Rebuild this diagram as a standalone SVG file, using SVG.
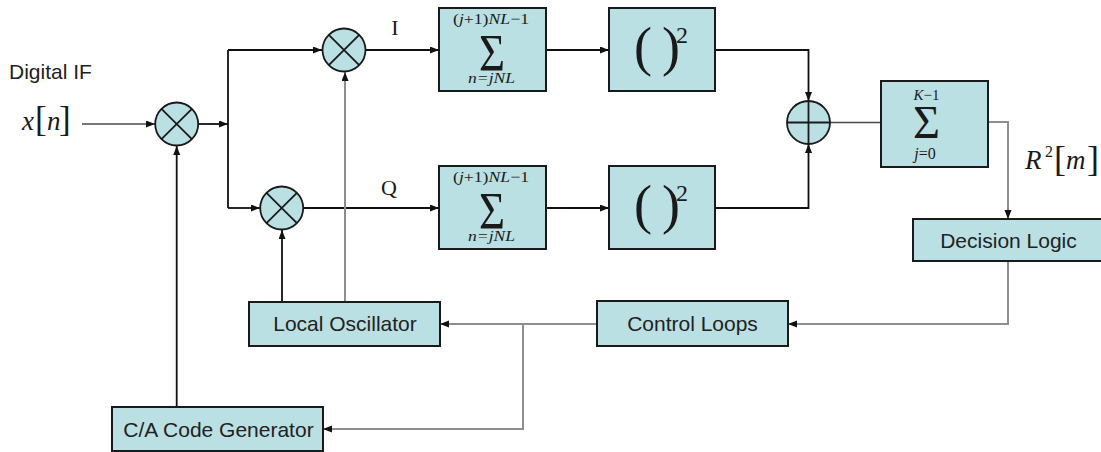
<svg xmlns="http://www.w3.org/2000/svg" width="1101" height="452" viewBox="0 0 1101 452">
<style>
.box{fill:#bae0e3;stroke:#1a1a1a;stroke-width:2}
.circ{fill:#bae0e3;stroke:#1a1a1a;stroke-width:1.8}
.cl{stroke:#1a1a1a;stroke-width:1.8;fill:none}
.w{fill:none;stroke:#111;stroke-width:1.8}
.g{fill:none;stroke:#8e8e8e;stroke-width:2}
.dg{fill:none;stroke:#4a4a4a;stroke-width:1.6}
.lbl{font-family:"Liberation Sans",Arial,sans-serif;font-size:21px;fill:#222;text-anchor:middle}
.m{font-family:"Liberation Serif","Times New Roman",serif;fill:#1a1a1a}
.it{font-style:italic}
</style>
<defs>
<marker id="ah" markerUnits="userSpaceOnUse" markerWidth="10" markerHeight="8" refX="9" refY="3.5" orient="auto">
<path d="M0,0 L9,3.5 L0,7 z" fill="#111"/>
</marker>
</defs>
<rect width="1101" height="452" fill="#fff"/>

<g id="connectors">
<path class="dg" d="M82,124 H155" marker-end="url(#ah)"/>
<path class="w" d="M198,124 H228" marker-end="url(#ah)"/>
<path class="w" d="M228,50 V208"/>
<path class="w" d="M228,50 H322" marker-end="url(#ah)"/>
<path class="w" d="M228,208 H260" marker-end="url(#ah)"/>
<path class="w" d="M366,50 H439" marker-end="url(#ah)"/>
<path class="w" d="M303,208 H439" marker-end="url(#ah)"/>
<path class="w" d="M546,50 H609" marker-end="url(#ah)"/>
<path class="w" d="M546,208 H609" marker-end="url(#ah)"/>
<path class="w" d="M715,50 H808.5 V101" marker-end="url(#ah)"/>
<path class="w" d="M715,208 H808.5 V144" marker-end="url(#ah)"/>
<path class="dg" d="M830,122.5 H881"/>
<path class="g" d="M988,122 H1008 V219" marker-end="url(#ah)"/>
<path class="g" d="M1008,261 V324 H788" marker-end="url(#ah)"/>
<path class="g" d="M597,324 H440" marker-end="url(#ah)"/>
<path class="g" d="M523,324 V429 H323" marker-end="url(#ah)"/>
<path class="w" d="M282,302 V230" marker-end="url(#ah)"/>
<path class="g" d="M345,302 V72" marker-end="url(#ah)"/>
<path class="w" d="M176.7,407 V146" marker-end="url(#ah)"/>
</g>

<g id="mult1">
<circle class="circ" cx="176.7" cy="124" r="21.5"/>
<path class="cl" d="M161.5,108.8 L191.9,139.2 M191.9,108.8 L161.5,139.2"/>
</g>
<g id="mult2">
<circle class="circ" cx="344" cy="50" r="21.5"/>
<path class="cl" d="M328.8,34.8 L359.2,65.2 M359.2,34.8 L328.8,65.2"/>
</g>
<g id="mult3">
<circle class="circ" cx="281.7" cy="208" r="21.5"/>
<path class="cl" d="M266.5,192.8 L296.9,223.2 M296.9,192.8 L266.5,223.2"/>
</g>
<g id="adder">
<circle class="circ" cx="808.5" cy="122.5" r="21.5"/>
<path class="cl" d="M787,122.5 H830 M808.5,101 V144"/>
</g>

<g id="labels">
<text class="lbl" x="9" y="79" style="text-anchor:start">Digital IF</text>
<text class="m" y="130"><tspan class="it" x="22" font-size="27">x</tspan><tspan x="35" y="131" font-size="35">[</tspan><tspan class="it" x="47" y="130" font-size="27">n</tspan><tspan x="59" y="131" font-size="35">]</tspan></text>
<text class="m" x="395" y="35" font-size="22" text-anchor="middle">I</text>
<text class="m" x="389" y="195" font-size="22" text-anchor="middle">Q</text>
<text class="m" y="169"><tspan class="it" x="1025" font-size="27">R</tspan><tspan x="1045" y="157" font-size="16">2</tspan><tspan x="1054" y="171" font-size="36">[</tspan><tspan class="it" x="1066" y="169" font-size="27">m</tspan><tspan x="1087" y="171" font-size="36">]</tspan></text>
</g>

<g id="sumI">
<rect class="box" x="439" y="8" width="107" height="83"/>
<text class="m" x="491" y="24" font-size="15" text-anchor="middle" textLength="76" lengthAdjust="spacingAndGlyphs">(<tspan class="it">j</tspan>+1)<tspan class="it">NL</tspan>−1</text>
<text class="m" x="492" y="71" font-size="52" text-anchor="middle" textLength="26" lengthAdjust="spacingAndGlyphs">Σ</text>
<text class="m it" x="491.5" y="83" font-size="15" text-anchor="middle" textLength="47" lengthAdjust="spacingAndGlyphs">n=jNL</text>
</g>
<g id="squareI">
<rect class="box" x="609" y="8" width="106" height="83"/>
<text class="m" x="634" y="65" font-size="54">(</text>
<text class="m" x="662" y="65" font-size="54">)</text>
<text class="m" x="676" y="43" font-size="24">2</text>
</g>
<g id="sumQ">
<rect class="box" x="439" y="166" width="107" height="83"/>
<text class="m" x="491" y="182" font-size="15" text-anchor="middle" textLength="76" lengthAdjust="spacingAndGlyphs">(<tspan class="it">j</tspan>+1)<tspan class="it">NL</tspan>−1</text>
<text class="m" x="492" y="229" font-size="52" text-anchor="middle" textLength="26" lengthAdjust="spacingAndGlyphs">Σ</text>
<text class="m it" x="491.5" y="241" font-size="15" text-anchor="middle" textLength="47" lengthAdjust="spacingAndGlyphs">n=jNL</text>
</g>
<g id="squareQ">
<rect class="box" x="609" y="166" width="106" height="83"/>
<text class="m" x="634" y="223" font-size="54">(</text>
<text class="m" x="662" y="223" font-size="54">)</text>
<text class="m" x="676" y="201" font-size="24">2</text>
</g>
<g id="sumK">
<rect class="box" x="881" y="81" width="107" height="86"/>
<text class="m" x="926.5" y="100" font-size="15" text-anchor="middle"><tspan class="it">K</tspan>−1</text>
<text class="m" x="926.5" y="138" font-size="46" text-anchor="middle" textLength="27" lengthAdjust="spacingAndGlyphs">Σ</text>
<text class="m" x="925" y="159" font-size="16" text-anchor="middle"><tspan class="it">j</tspan>=0</text>
</g>
<g id="decision">
<rect class="box" x="913" y="219" width="192" height="42"/>
<text class="lbl" x="1008.5" y="248">Decision Logic</text>
</g>
<g id="control">
<rect class="box" x="597" y="301" width="191" height="45"/>
<text class="lbl" x="692.5" y="331">Control Loops</text>
</g>
<g id="oscillator">
<rect class="box" x="249" y="302" width="191" height="44"/>
<text class="lbl" x="345" y="331">Local Oscillator</text>
</g>
<g id="cagen">
<rect class="box" x="112" y="407" width="211" height="44"/>
<text class="lbl" x="218.5" y="436.5">C/A Code Generator</text>
</g>
</svg>
